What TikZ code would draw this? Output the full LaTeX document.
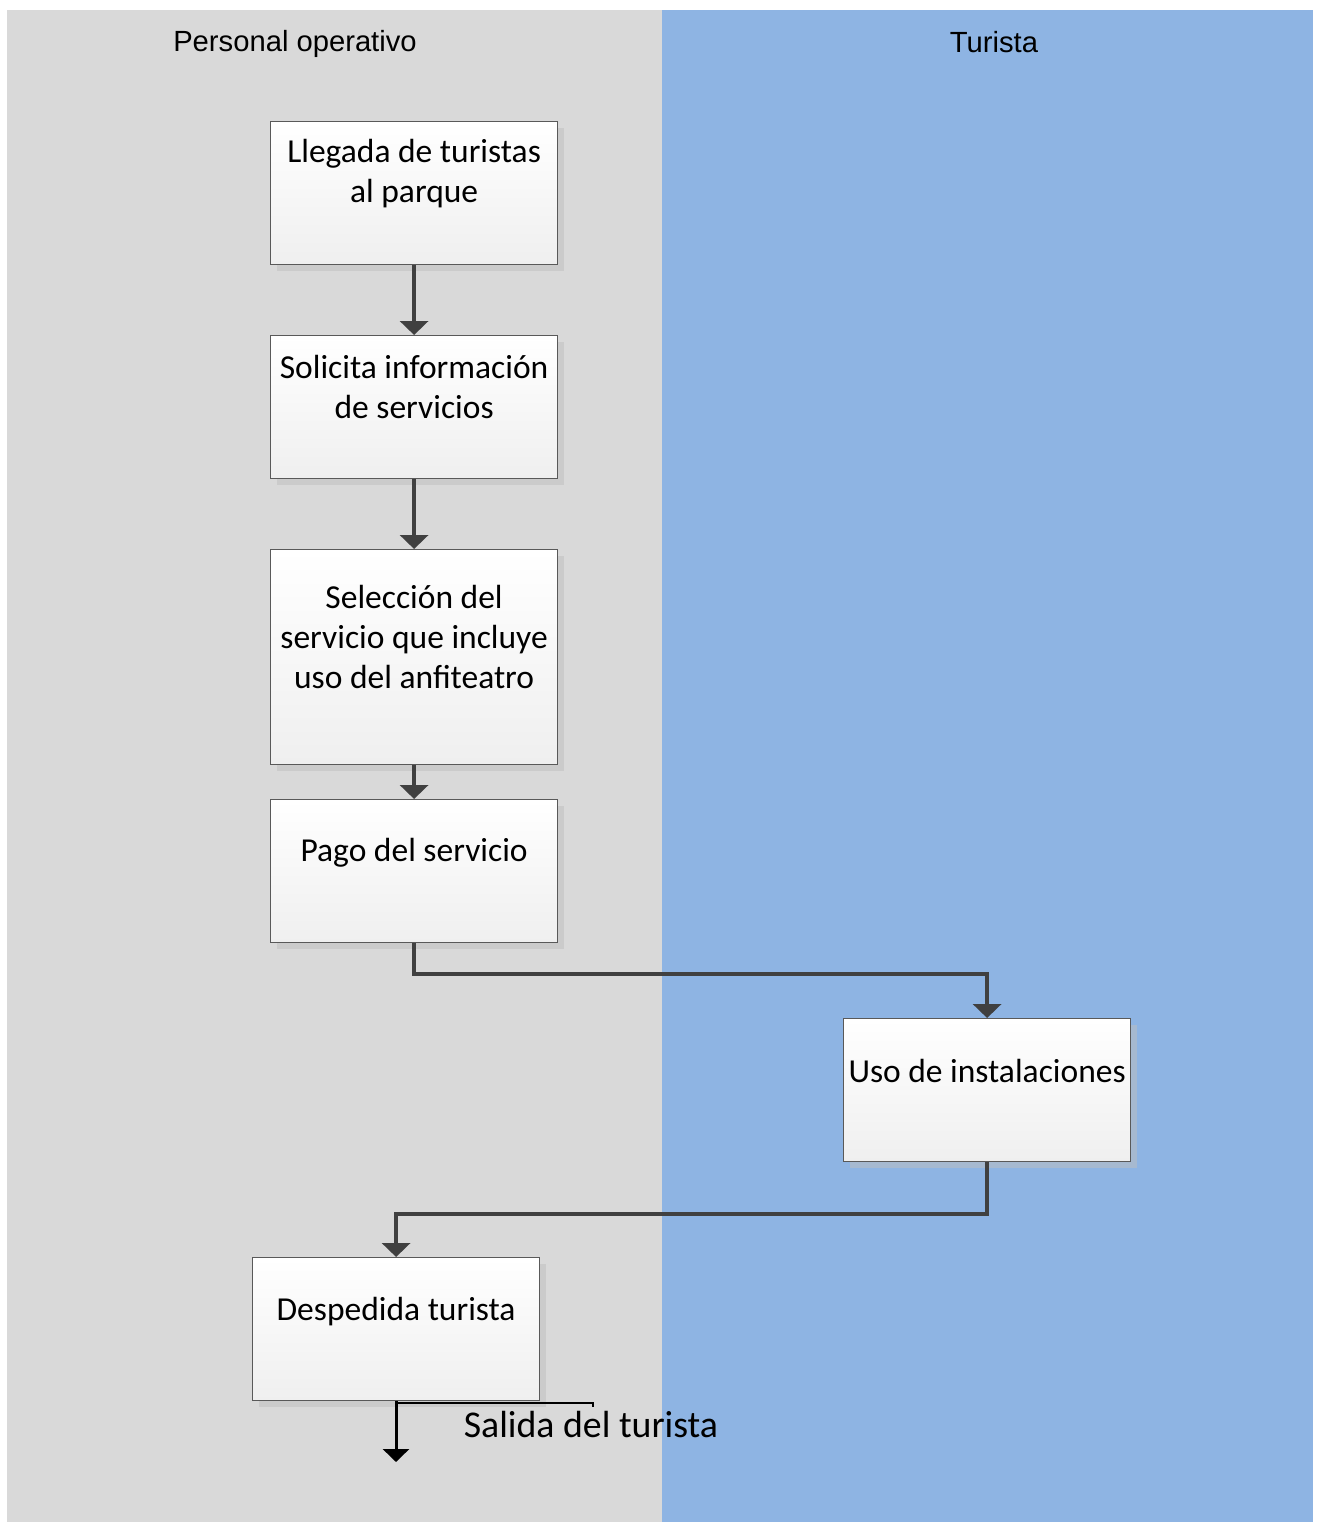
\documentclass[tikz,border=0pt]{standalone}
\usepackage{fontspec}
\setmainfont{Carlito}
\newfontfamily\hdrfont{Liberation Sans}
\usetikzlibrary{arrows.meta,calc,shadows}
\definecolor{lanegray}{RGB}{217,217,217}
\definecolor{laneblue}{RGB}{142,180,227}
\definecolor{boxedge}{RGB}{89,89,89}
\definecolor{boxbottom}{RGB}{239,239,239}
\definecolor{flowcol}{RGB}{64,64,64}
\definecolor{shadowcol}{RGB}{190,190,190}
\begin{document}
\begin{tikzpicture}[x=0.5pt,y=-0.5pt,
  stepbox/.style={draw=boxedge, line width=0.6pt, top color=white, bottom color=boxbottom,
    minimum width=143.5pt, minimum height=71.5pt, inner sep=0pt, anchor=north west,
    drop shadow={shadow xshift=3pt, shadow yshift=-3pt, fill=shadowcol, opacity=0.5}},
  steptext/.style={font=\fontsize{16.75}{20}\selectfont, align=center, inner sep=0pt},
  lanetitle/.style={font=\hdrfont\fontsize{14.6}{17}\selectfont, inner sep=0pt},
  flow/.style={draw=flowcol, line width=2pt, -{Triangle[width=14pt,length=7pt]}},
  exitflow/.style={draw=black, line width=1.5pt, -{Triangle[width=13pt,length=6.5pt]}},
]
\useasboundingbox (0,0) rectangle (1321,1522);
\fill[white] (0,0) rectangle (1321,1522);
\fill[lanegray] (7,10) rectangle (662,1522);
\fill[laneblue] (662,10) rectangle (1313,1522);
\node[lanetitle] (h1) at (295,44) {Personal operativo};
\node[lanetitle] (h2) at (994,42) {Turista};

\node[stepbox] (b1) at (270,121) {};
\node[stepbox] (b2) at (270,335) {};
\node[stepbox, minimum height=107.5pt] (b3) at (270,549) {};
\node[stepbox] (b4) at (270,799) {};
\node[stepbox] (b5) at (843,1018) {};
\node[stepbox] (b6) at (252,1257) {};

\node[steptext] (t1) at ($(b1.center)+(0,-20)$) {Llegada de turistas\\al parque};
\node[steptext] (t2) at ($(b2.center)+(0,-20)$) {Solicita información\\de servicios};
\node[steptext] (t3) at ($(b3.center)+(0,-20)$) {Selección del\\servicio que incluye\\uso del anfiteatro};
\node[steptext] (t4) at ($(b4.center)+(0,-18)$) {Pago del servicio};
\node[steptext] (t5) at ($(b5.center)+(0,-19)$) {Uso de instalaciones};
\node[steptext] (t6) at ($(b6.center)+(0,-18)$) {Despedida turista};

\draw[flow] (b1) -- (b2);
\draw[flow] (b2) -- (b3);
\draw[flow] (b3) -- (b4);
\draw[flow] (b4.south) -- ++(0,31) -| (b5.north);
\draw[flow] (b5.south) -- ++(0,52) -| (b6.north);

\coordinate (exitend) at (396,1462);
\coordinate (leadstart) at (396,1403);
\coordinate (leadend) at (593,1403);
\draw[exitflow] (b6.south -| exitend) -- (exitend);
\draw[black, line width=1pt] (leadstart) -- (leadend) -- ++(0,4);
\node[font=\fontsize{18.9}{22}\selectfont, inner sep=0pt] (salida) at (591,1424) {Salida del turista};
\end{tikzpicture}
\end{document}
